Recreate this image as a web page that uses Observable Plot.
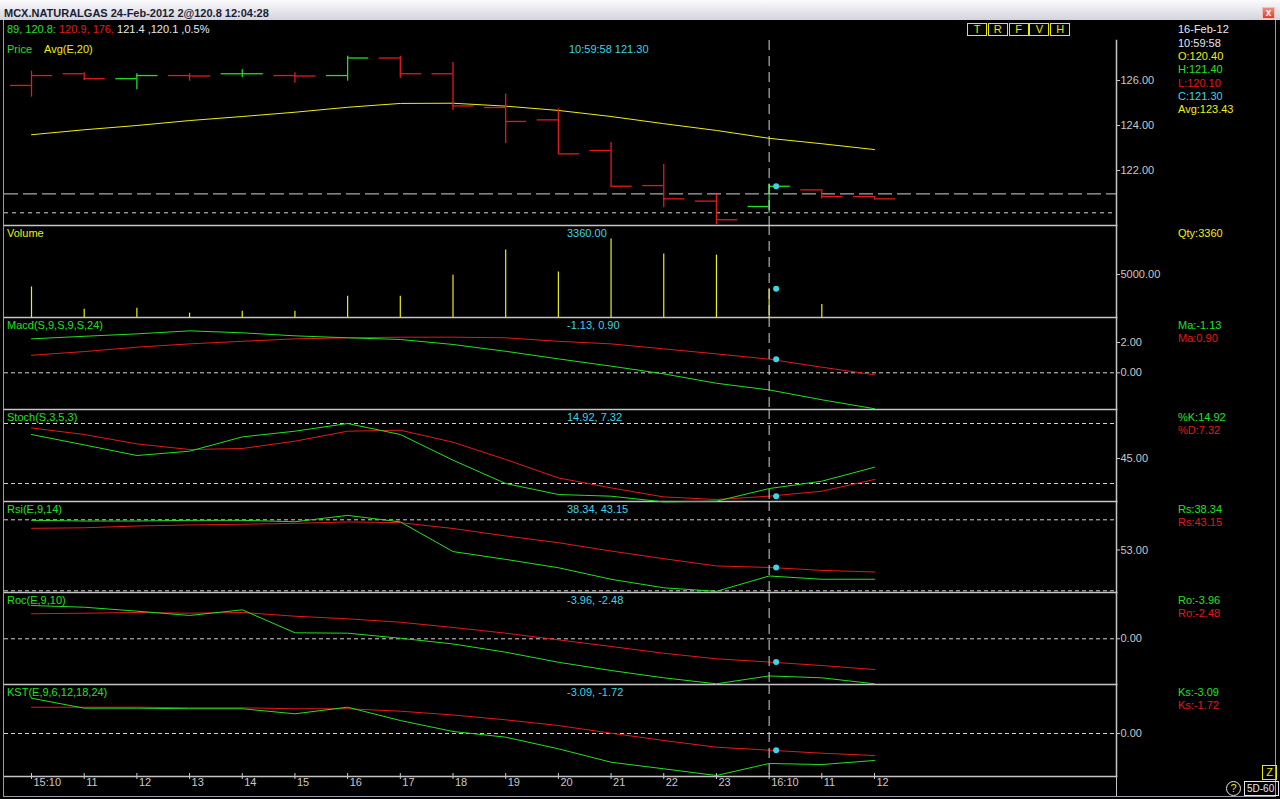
<!DOCTYPE html>
<html><head><meta charset="utf-8">
<script src="https://cdn.jsdelivr.net/npm/d3@7"></script>
<script src="https://cdn.jsdelivr.net/npm/@observablehq/plot@0.6"></script>
<style>
html,body{margin:0;padding:0;background:#000;}
#win{position:relative;width:1280px;height:799px;overflow:hidden;background:#000;font-family:"Liberation Sans",Arial,sans-serif;font-size:11px;}
.t{position:absolute;white-space:nowrap;line-height:14px;height:14px;}
.p{position:absolute;left:0;}
.p svg{display:block;overflow:visible;}
#titlebar{position:absolute;left:0;top:0;width:1280px;height:20px;background:linear-gradient(#fbfbfd,#d3d4de);}
#titletext{position:absolute;left:4px;top:6px;font-weight:bold;font-size:11px;color:#1c1c30;line-height:14px;}
#closebtn{position:absolute;left:1262px;top:7px;width:11px;height:10px;background:linear-gradient(#f08a7a,#d8402c);border:1px solid #f4c0b8;color:#fff;font-size:10px;line-height:10px;text-align:center;font-weight:bold;}
.vline{position:absolute;width:1px;background:#9a9aa4;}
.hline{position:absolute;height:1px;background:#9a9aa4;}
.box{position:absolute;border:1px solid #e8e800;color:#e8e800;text-align:center;box-sizing:border-box;line-height:11px;font-size:11px;}
</style></head>
<body><div id="win"></div>
<script>
// ---------- colours ----------
const GREEN = "#22e022", RED = "#e21a1a", YELLOW = "#eeee14", CYAN = "#3cd4e6",
      WHITE = "#e8e8e8", GREY = "#c8c8c8", LINE = "#c4c4c4", DASH = "#d2d2d2";
const FONT = '"Liberation Sans", Arial, sans-serif';

// ---------- data ----------
const xLabels = ["15:10","11","12","13","14","15","16","17","18","19","20","21","22","23","16:10","11","12"];
const open  = [125.78,126.30,126.08,126.22,126.30,126.22,126.22,127.00,126.30,124.80,124.25,122.89,121.33,120.64,120.40,121.14,120.84];
const high  = [126.41,126.34,126.30,126.30,126.48,126.34,127.08,127.08,126.80,125.40,124.74,123.26,122.27,120.93,121.40,121.14,120.84];
const low   = [125.26,126.00,125.59,125.97,126.12,125.88,125.97,126.10,124.67,123.20,122.74,121.26,120.34,119.59,120.10,120.74,120.70];
const close = [126.22,126.08,126.22,126.20,126.30,126.20,127.00,126.30,124.87,124.18,122.74,121.30,120.74,119.81,121.30,120.84,120.74];
const PREV_CLOSE = 126.40;
const avg   = [123.59,123.81,124.00,124.22,124.40,124.59,124.81,124.98,124.99,124.86,124.67,124.40,124.08,123.78,123.43,123.19,122.93];
const volume = [3560,1000,1116,535,768,768,2477,2477,4920,7827,5303,9106,7362,7245,3360,1547,null];
const macd       = [2.24,2.41,2.57,2.77,2.64,2.44,2.31,2.20,1.87,1.42,0.92,0.44,-0.07,-0.69,-1.13,-1.78,-2.37];
const macdSignal = [1.16,1.40,1.69,1.91,2.08,2.24,2.31,2.35,2.35,2.31,2.08,1.91,1.58,1.25,0.90,0.37,-0.13];
const stochK = [69.0,58.6,48.0,52.3,66.6,72.3,80.0,69.0,43.3,20.0,9.0,7.3,1.6,2.3,14.92,22.3,36.3];
const stochD = [75.6,69.0,59.6,54.0,55.0,62.3,72.3,73.3,61.3,44.0,25.6,15.6,6.6,4.0,7.32,12.3,24.0];
const rsi       = [69.7,69.3,69.3,69.7,69.7,68.9,72.5,68.8,52.1,47.7,43.0,36.5,31.7,29.7,38.34,36.5,36.5];
const rsiSignal = [65.2,65.5,66.5,67.1,67.5,68.0,68.8,68.4,65.1,60.9,57.1,52.4,48.1,44.0,43.15,41.5,40.6];
const roc       = [3.55,3.37,2.95,2.49,3.09,0.64,0.60,0.06,-0.55,-1.43,-2.50,-3.38,-4.16,-4.80,-3.96,-4.16,-4.80];
const rocSignal = [2.67,2.73,2.81,2.73,2.81,2.41,2.13,1.77,1.21,0.60,-0.11,-0.82,-1.54,-2.13,-2.48,-2.85,-3.28];
const kst       = [3.64,2.61,2.61,2.55,2.55,2.03,2.71,1.34,0.21,-0.38,-1.58,-2.96,-3.64,-4.33,-3.09,-3.20,-2.78];
const kstSignal = [2.71,2.71,2.71,2.65,2.65,2.55,2.55,2.30,1.91,1.41,0.82,0.03,-0.72,-1.41,-1.72,-2.03,-2.27];
const SEL = 14;                       // highlighted bar (16-Feb 10:00)
const priceLevels = [120.96, 120.12];
const priceTicks = [122,124,126], volumeTicks = [5000], macdTicks = [0,2],
      stochTicks = [45], stochLevels = [80,20], rsiTicks = [53], rsiLevels = [70,30],
      rocTicks = [0], kstTicks = [0];

// ---------- texts ----------
const TITLE = "MCX.NATURALGAS 24-Feb-2012 2@120.8 12:04:28";
const quote = [["89, 120.8: ", GREEN], ["120.9, 176, ", RED], ["121.4 ,120.1 ,0.5%", WHITE]];
const panelNames = ["Price","Volume","Macd(S,9,S,9,S,24)","Stoch(S,3,5,3)","Rsi(E,9,14)","Roc(E,9,10)","KST(E,9,6,12,18,24)"];
const panelValues = ["10:59:58 121.30","3360.00","-1.13, 0.90","14.92, 7.32","38.34, 43.15","-3.96, -2.48","-3.09, -1.72"];
const sideInfo = [["16-Feb-12",WHITE],["10:59:58",WHITE],["O:120.40",YELLOW],["H:121.40",GREEN],["L:120.10",RED],["C:121.30",CYAN],["Avg:123.43",YELLOW]];
const sidePanel = [[["Qty:3360",YELLOW]],[["Ma:-1.13",GREEN],["Ma:0.90",RED]],[["%K:14.92",GREEN],["%D:7.32",RED]],
                   [["Rs:38.34",GREEN],["Rs:43.15",RED]],[["Ro:-3.96",GREEN],["Ro:-2.48",RED]],[["Ks:-3.09",GREEN],["Ks:-1.72",RED]]];
const toolButtons = ["T","R","F","V","H"];

// ---------- helpers ----------
const n = close.length;
const idx = d3.range(n);
const win = document.getElementById("win");
const TICK = 0.4;

function txt(x, yc, s, color, parent = win) {
  const d = document.createElement("div");
  d.className = "t"; d.style.left = x + "px"; d.style.top = (yc - 7) + "px";
  d.style.color = color; d.textContent = s; parent.appendChild(d); return d;
}
function div(cls, css, content) {
  const d = document.createElement("div"); d.className = cls;
  Object.assign(d.style, css); if (content != null) d.textContent = content; win.appendChild(d); return d;
}
const crosshair = () => Plot.ruleX([SEL], {stroke: DASH, strokeDasharray: "10,6", strokeWidth: 1});
const selDot = (arr) => Plot.dot([SEL], {x: d => d, y: d => arr[d], r: 3, fill: CYAN, dx: 7});

function panel(top, h, yDomain, yRange, ticks, marks, mb = 0, xAxis = []) {
  const svg = Plot.plot({
    width: 1280, height: h + mb,
    marginLeft: 4, marginRight: 164, marginTop: 0, marginBottom: mb,
    style: {background: "transparent", color: GREY, fontFamily: FONT, fontSize: "11px", overflow: "visible"},
    x: {domain: [0, n - 1], range: [31, 874], axis: null},
    y: {domain: yDomain, range: yRange},
    marks: [
      Plot.frame({anchor: "bottom", stroke: LINE, strokeWidth: 1.5}),
      Plot.frame({anchor: "right", stroke: LINE, strokeWidth: 1.5}),
      Plot.axisY(ticks, {anchor: "right", tickSize: 3, tickPadding: 1, tickFormat: d3.format(".2f"), label: null, fill: GREY, stroke: GREY}),
      ...marks,
      ...xAxis
    ]
  });
  const wrap = document.createElement("div");
  wrap.className = "p"; wrap.style.top = top + "px";
  wrap.appendChild(svg); win.appendChild(wrap);
}

// ---------- window chrome ----------
const tb = div("", {position: "absolute"}); tb.id = "titlebar";
const tt = document.createElement("div"); tt.id = "titletext"; tt.textContent = TITLE; tb.appendChild(tt);
const cb = document.createElement("div"); cb.id = "closebtn"; cb.textContent = "x"; tb.appendChild(cb);
div("vline", {left: "3px", top: "20px", height: "777px"});
div("vline", {left: "1275px", top: "20px", height: "777px"});
div("hline", {left: "3px", top: "796px", width: "1273px"});
div("vline", {left: "1116px", top: "776px", height: "20px", background: LINE});

// quote line
const q = txt(7, 29, "", WHITE);
quote.forEach(([s, c]) => { const sp = document.createElement("span"); sp.textContent = s; sp.style.color = c; q.appendChild(sp); });
// tool buttons
toolButtons.forEach((b, k) => div("box", {left: (967 + k * 20.8) + "px", top: "23px", width: "20px", height: "13px"}, b));
// side info
sideInfo.forEach(([s, c], k) => txt(1178, 29.3 + k * 13.3, s, c));

// ---------- panels ----------
const bars = idx.map(i => ({i, o: open[i], h: high[i], l: low[i], c: close[i],
  col: close[i] >= (i ? close[i - 1] : PREV_CLOSE) ? GREEN : RED}));

const layout = [
  {top: 40,  h: 185},
  {top: 225, h: 92},
  {top: 317, h: 92},
  {top: 409, h: 92},
  {top: 501, h: 91},
  {top: 592, h: 92},
  {top: 684, h: 92}
];

// Price
panel(40, 185, [122, 126], [130, 40], priceTicks, [
  Plot.ruleY([priceLevels[0]], {stroke: DASH, strokeDasharray: "14,5"}),
  Plot.ruleY([priceLevels[1]], {stroke: DASH, strokeDasharray: "4,4"}),
  Plot.lineY(avg, {stroke: YELLOW, strokeWidth: 1}),
  Plot.ruleX(bars, {x: "i", y1: "l", y2: "h", stroke: "col", strokeWidth: 1.3}),
  Plot.ruleY(bars, {y: "o", x1: d => d.i - TICK, x2: "i", stroke: "col", strokeWidth: 1.3}),
  Plot.ruleY(bars, {y: "c", x1: "i", x2: d => d.i + TICK, stroke: "col", strokeWidth: 1.3}),
  crosshair(),
  selDot(close)
]);

// Volume
panel(225, 92, [0, 5000], [92.3, 49], volumeTicks, [
  Plot.ruleX(idx.filter(i => volume[i] != null), {x: d => d, y1: 0, y2: d => volume[d], stroke: YELLOW, strokeWidth: 1.2}),
  crosshair(),
  selDot(volume)
]);

// MACD
panel(317, 92, [0, 2], [55.3, 25], macdTicks, [
  Plot.ruleY([0], {stroke: DASH, strokeDasharray: "4,3"}),
  Plot.lineY(macdSignal, {stroke: RED, strokeWidth: 1}),
  Plot.lineY(macd, {stroke: GREEN, strokeWidth: 1}),
  crosshair(),
  selDot(macdSignal)
]);

// Stoch
panel(409, 92, [20, 80], [74, 14], stochTicks, [
  Plot.ruleY(stochLevels, {stroke: DASH, strokeDasharray: "4,3"}),
  Plot.lineY(stochD, {stroke: RED, strokeWidth: 1}),
  Plot.lineY(stochK, {stroke: GREEN, strokeWidth: 1}),
  crosshair(),
  selDot(stochD)
]);

// RSI
panel(501, 91, [30, 70], [89.3, 18.3], rsiTicks, [
  Plot.ruleY(rsiLevels, {stroke: DASH, strokeDasharray: "4,3"}),
  Plot.lineY(rsiSignal, {stroke: RED, strokeWidth: 1}),
  Plot.lineY(rsi, {stroke: GREEN, strokeWidth: 1}),
  crosshair(),
  selDot(rsiSignal)
]);

// ROC
panel(592, 92, [-4, 0], [83.8, 46.3], rocTicks, [
  Plot.ruleY([0], {stroke: DASH, strokeDasharray: "4,3"}),
  Plot.lineY(rocSignal, {stroke: RED, strokeWidth: 1}),
  Plot.lineY(roc, {stroke: GREEN, strokeWidth: 1}),
  crosshair(),
  selDot(rocSignal)
]);

// KST + time axis
panel(684, 92, [-3, 0], [78.1, 49], kstTicks, [
  Plot.ruleY([0], {stroke: DASH, strokeDasharray: "4,3"}),
  Plot.lineY(kstSignal, {stroke: RED, strokeWidth: 1}),
  Plot.lineY(kst, {stroke: GREEN, strokeWidth: 1}),
  crosshair(),
  selDot(kstSignal)
], 23, [
  Plot.axisX(idx, {anchor: "bottom", tickSize: 6, dy: -3, tickFormat: () => "", label: null, stroke: GREY}),
  Plot.text(xLabels, {x: (d, i) => i, frameAnchor: "bottom", dy: 9, dx: 2, textAnchor: "start", fill: GREY, fontSize: 11})
]);

// ---------- panel captions ----------
layout.forEach((p, k) => {
  const yc = k === 0 ? p.top + 9 : p.top + 7.5;
  txt(7, yc, panelNames[k], k === 1 ? YELLOW : GREEN);
  txt(k === 0 ? 569 : 567, yc, panelValues[k], CYAN);
  if (k > 0) sidePanel[k - 1].forEach(([s, c], j) => txt(1178, p.top + 7.5 + j * 13, s, c));
});
txt(44, 49, "Avg(E,20)", YELLOW);

// bottom-right controls
div("box", {left: "1262px", top: "765px", width: "15px", height: "15px", lineHeight: "13px"}, "Z");
div("box", {left: "1226px", top: "781px", width: "15px", height: "15px", borderRadius: "50%", lineHeight: "13px", borderColor: "#e8e8e8", color: "#e8e800"}, "?");
div("box", {left: "1244px", top: "781px", width: "35px", height: "15px", lineHeight: "13px", fontSize: "10px", borderColor: "#e8e8e8", color: "#e8e8e8", textAlign: "left", paddingLeft: "2px"}, "5D-60");
</script>
</body></html>
